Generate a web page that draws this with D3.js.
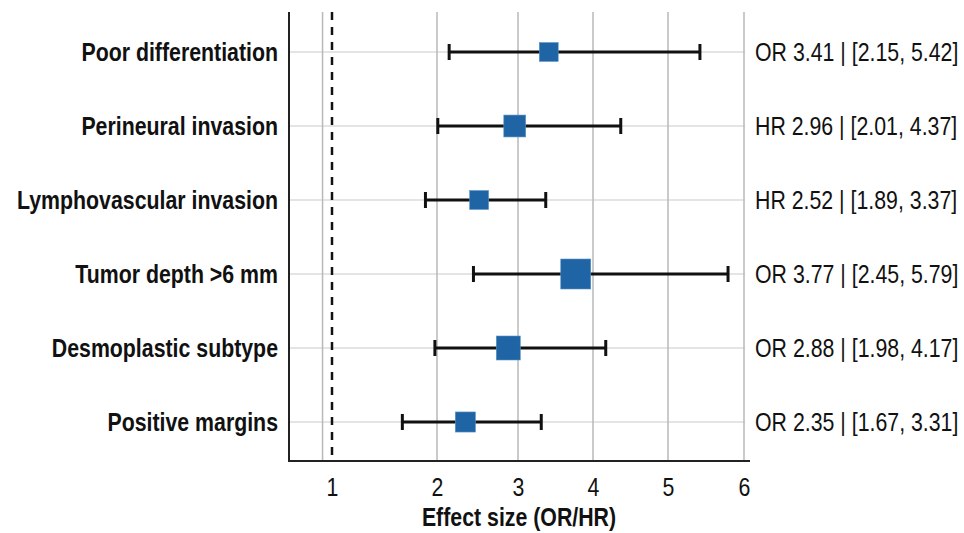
<!DOCTYPE html>
<html lang="en">
<head>
    <meta charset="UTF-8">
    <title>Forest plot</title>
    <script src="https://d3js.org/d3.v7.min.js"></script>
    <style>
        body { margin: 0; background: #fff; }
        svg text { font-family: 'Liberation Sans', Arial, sans-serif; fill: #111; }
        .row-label { font-weight: 700; font-size: 26px; }
        .est-label { font-size: 26px; }
        .x-title { font-weight: 700; font-size: 26px; }
        .x-axis text { font-size: 26px; }
    </style>
</head>
<body>
    <div id="chart"></div>
    <script>
        // Data
        const factors = ['Poor differentiation', 'Perineural invasion', 'Lymphovascular invasion',
                         'Tumor depth >6 mm', 'Desmoplastic subtype', 'Positive margins'];
        const measures = ['OR', 'HR', 'HR', 'OR', 'OR', 'OR'];
        const estimates = [3.41, 2.96, 2.52, 3.77, 2.88, 2.35];
        const lower = [2.15, 2.01, 1.89, 2.45, 1.98, 1.67];
        const upper = [5.42, 4.37, 3.37, 5.79, 4.17, 3.31];
        const weights = [0.63, 0.73, 0.63, 1.0, 0.8, 0.67];   // relative marker size
        const tickValues = [1, 2, 3, 4, 5, 6];
        const gridValues = [0.91, 2, 3, 4, 5, 6];

        const width = 964;
        const height = 533;
        const plot = { left: 289, right: 750, top: 12, bottom: 461 };
        const narrow = 0.82;   // no condensed font installed, squeeze Liberation Sans instead

        const svg = d3.select('#chart')
            .append('svg')
            .attr('width', width)
            .attr('height', height);

        // x axis is not evenly spaced in the source, so a piecewise scale
        const x = d3.scaleLinear()
            .domain(tickValues)
            .range([332, 437, 518, 593, 668, 744]);

        const y = d3.scalePoint()
            .domain(factors)
            .range([52, 422]);

        const size = d3.scaleLinear()
            .domain([0, 1])
            .range([0, 30]);

        // row grid lines
        svg.append('g')
            .selectAll('line')
            .data(factors)
            .enter()
            .append('line')
            .attr('x1', plot.left)
            .attr('x2', plot.right - 5)
            .attr('y1', d => y(d))
            .attr('y2', d => y(d))
            .style('stroke', '#e4e4e4')
            .style('stroke-width', 2);

        // vertical grid lines
        svg.append('g')
            .selectAll('line')
            .data(gridValues)
            .enter()
            .append('line')
            .attr('x1', d => x(d))
            .attr('x2', d => x(d))
            .attr('y1', plot.top)
            .attr('y2', plot.bottom)
            .style('stroke', '#b8b8b8')
            .style('stroke-width', 1.5);

        // reference line at 1
        svg.append('line')
            .attr('x1', x(1))
            .attr('x2', x(1))
            .attr('y1', plot.top)
            .attr('y2', plot.bottom)
            .style('stroke', '#111')
            .style('stroke-width', 2.5)
            .style('stroke-dasharray', '8,7');

        // axis lines
        svg.append('line')
            .attr('x1', plot.left).attr('x2', plot.left)
            .attr('y1', plot.top).attr('y2', plot.bottom + 1)
            .style('stroke', '#222').style('stroke-width', 2);
        svg.append('line')
            .attr('x1', plot.left).attr('x2', plot.right)
            .attr('y1', plot.bottom).attr('y2', plot.bottom)
            .style('stroke', '#222').style('stroke-width', 2);

        const rows = factors.map((f, i) => ({
            name: f, m: measures[i], est: estimates[i], lo: lower[i], hi: upper[i], w: weights[i]
        }));

        const g = svg.append('g')
            .selectAll('g')
            .data(rows)
            .enter()
            .append('g');

        // whiskers
        g.append('line')
            .attr('x1', d => x(d.lo))
            .attr('x2', d => x(d.hi))
            .attr('y1', d => y(d.name))
            .attr('y2', d => y(d.name))
            .style('stroke', '#111')
            .style('stroke-width', 3);
        g.selectAll('.cap')
            .data(d => [[d.lo, d.name], [d.hi, d.name]])
            .enter()
            .append('line')
            .attr('class', 'cap')
            .attr('x1', d => x(d[0]))
            .attr('x2', d => x(d[0]))
            .attr('y1', d => y(d[1]) - 8)
            .attr('y2', d => y(d[1]) + 8)
            .style('stroke', '#111')
            .style('stroke-width', 3);

        // point estimates
        g.append('rect')
            .attr('x', d => x(d.est) - size(d.w) / 2)
            .attr('y', d => y(d.name) - size(d.w) / 2)
            .attr('width', d => size(d.w))
            .attr('height', d => size(d.w))
            .style('fill', '#1f64a4')
            .style('stroke', '#5d93c6')
            .style('stroke-width', 0.6);

        // labels on the left
        g.append('text')
            .attr('class', 'row-label')
            .attr('transform', d => `translate(278, ${y(d.name)}) scale(${narrow}, 1)`)
            .attr('dy', '0.35em')
            .attr('text-anchor', 'end')
            .text(d => d.name);

        // estimate text on the right
        g.append('text')
            .attr('class', 'est-label')
            .attr('transform', d => `translate(755, ${y(d.name)}) scale(${narrow}, 1)`)
            .attr('dy', '0.35em')
            .text(d => `${d.m} ${d.est.toFixed(2)} | [${d.lo.toFixed(2)}, ${d.hi.toFixed(2)}]`);

        // tick labels
        const xAxis = d3.axisBottom(x)
            .tickValues(tickValues)
            .tickFormat(d3.format('d'))
            .tickSize(0)
            .tickPadding(17);
        svg.append('g')
            .attr('class', 'x-axis')
            .attr('transform', `translate(0, ${plot.bottom})`)
            .call(xAxis)
            .call(a => a.select('.domain').remove())
            .selectAll('text')
            .attr('transform', `scale(${narrow}, 1)`)
            .style('fill', '#111');

        svg.append('text')
            .attr('class', 'x-title')
            .attr('transform', `translate(519, 526) scale(${narrow}, 1)`)
            .attr('text-anchor', 'middle')
            .text('Effect size (OR/HR)');
    </script>
</body>
</html>
